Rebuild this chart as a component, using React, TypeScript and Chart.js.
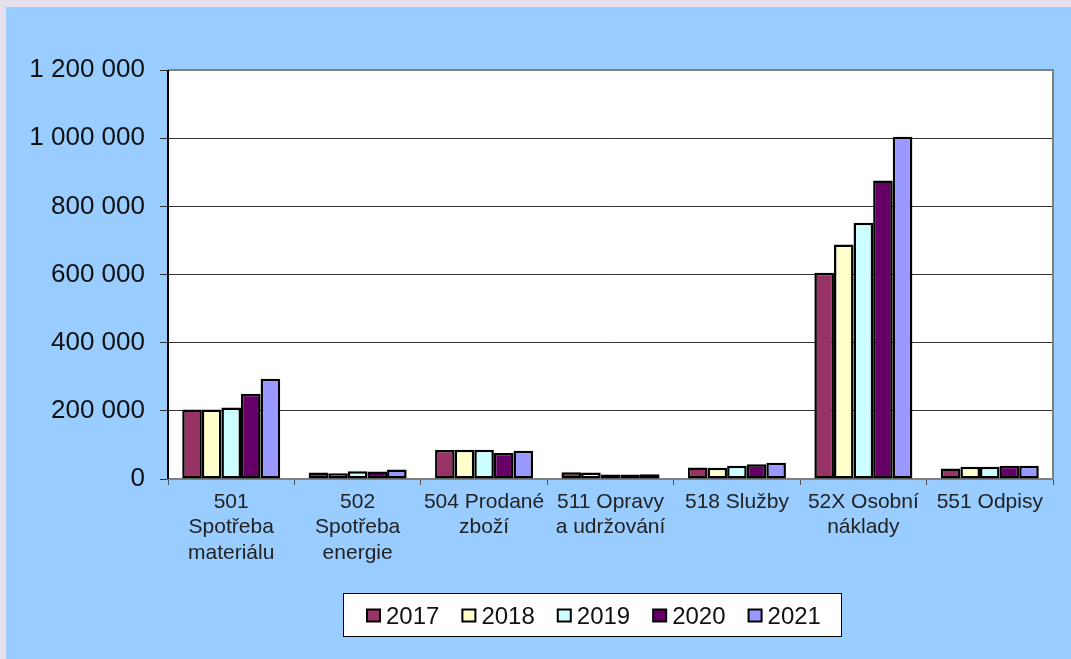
import React, { useEffect, useRef } from "react";
import { Chart, registerables } from "chart.js";

Chart.register(...registerables);

const categories: string[][] = [
  ["501", "Spotřeba", "materiálu"],
  ["502", "Spotřeba", "energie"],
  ["504 Prodané", "zboží"],
  ["511 Opravy", "a udržování"],
  ["518 Služby"],
  ["52X Osobní", "náklady"],
  ["551 Odpisy"],
];
const years = ["2017", "2018", "2019", "2020", "2021"];
const s2017 = [204000, 19000, 85000, 20000, 34000, 605000, 31000];
const s2018 = [204000, 17000, 86000, 19000, 33000, 688000, 36000];
const s2019 = [210000, 23000, 86000, 13000, 39000, 752000, 36000];
const s2020 = [250000, 22000, 76000, 13000, 43000, 876000, 39000];
const s2021 = [294000, 28000, 83000, 14000, 48000, 1004000, 39000];
const colors = ["#993366", "#FFFFCC", "#CCFFFF", "#660066", "#9999FF"];
const yTicks = [0, 200000, 400000, 600000, 800000, 1000000, 1200000];

const FONT = "'Liberation Sans', Arial, sans-serif";

const fmt = (v: number) => String(v).replace(/\B(?=(\d{3})+(?!\d))/g, " ");

const bgPlugin = {
  id: "bgPlugin",
  beforeDraw(chart: any) {
    const ctx = chart.ctx;
    const { left, top, right, bottom } = chart.chartArea;
    ctx.save();
    ctx.fillStyle = "#E6E0EC";
    ctx.fillRect(0, 0, chart.width, chart.height);
    ctx.fillStyle = "#99CCFF";
    ctx.fillRect(6, 7, chart.width - 6, chart.height - 7);
    ctx.fillStyle = "#FFFFFF";
    ctx.fillRect(left, top, right - left, bottom - top);
    ctx.restore();
  },
  afterDraw(chart: any) {
    const ctx = chart.ctx;
    const { left, top, right, bottom } = chart.chartArea;
    ctx.save();
    ctx.strokeStyle = "#808080";
    ctx.lineWidth = 2;
    ctx.beginPath();
    ctx.moveTo(left, top);
    ctx.lineTo(right, top);
    ctx.lineTo(right, bottom);
    ctx.stroke();
    ctx.strokeStyle = "#000000";
    ctx.lineWidth = 2;
    ctx.beginPath();
    ctx.moveTo(left, top);
    ctx.lineTo(left, bottom);
    ctx.stroke();

    // legend
    const bx = 343, by = 593, bw = 499, bh = 44;
    ctx.fillStyle = "#FFFFFF";
    ctx.fillRect(bx, by, bw, bh);
    ctx.strokeStyle = "#000000";
    ctx.lineWidth = 1;
    ctx.strokeRect(bx + 0.5, by + 0.5, bw - 1, bh - 1);
    ctx.font = `24px ${FONT}`;
    ctx.textBaseline = "alphabetic";
    ctx.textAlign = "left";
    let x = 367;
    const cy = 615.5;
    chart.data.datasets.forEach((ds: any) => {
      ctx.fillStyle = ds.backgroundColor;
      ctx.fillRect(x, cy - 6, 13, 12);
      ctx.strokeStyle = "#000";
      ctx.lineWidth = 2;
      ctx.strokeRect(x, cy - 6, 13, 12);
      ctx.fillStyle = "#111";
      ctx.fillText(ds.label, x + 19, 624);
      const w = ctx.measureText(ds.label).width;
      x = x + 19 + w + 23;
    });
    ctx.restore();
  },
};

export default function App() {
  const ref = useRef<HTMLCanvasElement | null>(null);
  useEffect(() => {
    document.body.style.margin = "0";
    const series = [s2017, s2018, s2019, s2020, s2021];
    const chart = new Chart(ref.current!, {
      type: "bar",
      data: {
        labels: categories,
        datasets: years.map((y, i) => ({
          label: y,
          data: series[i],
          backgroundColor: colors[i],
          borderColor: "#000000",
          borderWidth: 2.5,
          borderSkipped: false,
          categoryPercentage: 0.775,
          barPercentage: 1,
        })),
      },
      options: {
        responsive: false,
        animation: false,
        layout: { padding: { left: 0, top: 70, right: 18, bottom: 0 } },
        plugins: {
          legend: { display: false },
          tooltip: { enabled: false },
        },
        scales: {
          x: {
            grid: {
              offset: true,
              drawOnChartArea: false,
              drawTicks: true,
              tickLength: 6,
              color: "#555",
            },
            border: { color: "#808080", width: 2 },
            ticks: {
              color: "#222",
              font: { family: FONT, size: 21, lineHeight: 1.22 },
              padding: 4,
              maxRotation: 0,
              autoSkip: false,
            },
            afterFit(scale: any) {
              scale.height = 180;
            },
          },
          y: {
            min: 0,
            max: 1200000,
            afterBuildTicks(scale: any) {
              scale.ticks = yTicks.map((v) => ({ value: v }));
            },
            grid: {
              color: "#333",
              lineWidth: 1,
              drawTicks: true,
              tickLength: 8,
            },
            border: { display: false },
            ticks: {
              color: "#111",
              font: { family: FONT, size: 26 },
              padding: 15,
              callback: (v: any) => fmt(Number(v)),
            },
            afterFit(scale: any) {
              scale.width = 168;
            },
          },
        },
      },
      plugins: [bgPlugin],
    });
    return () => chart.destroy();
  }, []);
  return (
    <div style={{ width: 1071, height: 659 }}>
      <canvas ref={ref} width={1071} height={659} style={{ display: "block" }} />
    </div>
  );
}
